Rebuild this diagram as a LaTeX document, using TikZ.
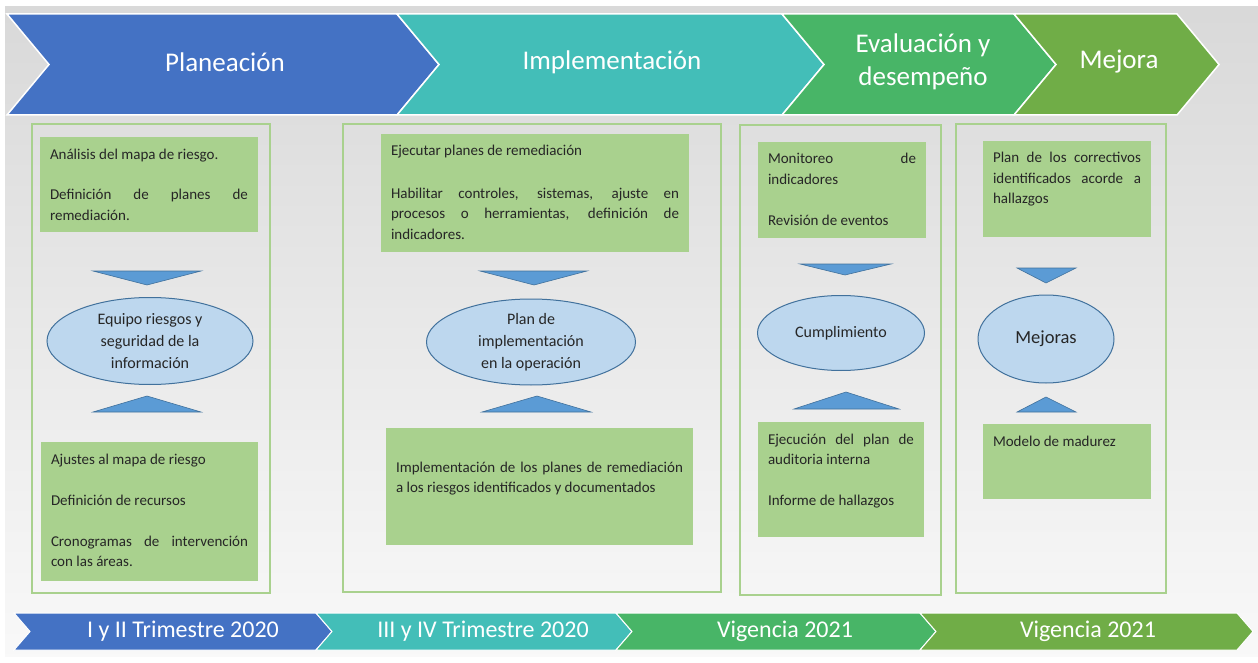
\documentclass[tikz,border=0pt]{standalone}
\usepackage{fontspec}
\setmainfont{Carlito}
\usetikzlibrary{shapes.geometric}

\definecolor{chevblue}{HTML}{4472C4}
\definecolor{chevteal}{HTML}{43BEB8}
\definecolor{chevgreen}{HTML}{48B567}
\definecolor{chevolive}{HTML}{70AD47}
\definecolor{notegreen}{HTML}{A9D18E}
\definecolor{notetext}{HTML}{262626}
\definecolor{bubblefill}{HTML}{BDD7EE}
\definecolor{bubbleedge}{HTML}{41719C}
\definecolor{wedgeblue}{HTML}{5B9BD5}

% Texto de las cajas verdes (ancho, alto, contenido)
\newcommand{\notefont}{\fontsize{15}{20.5}\selectfont\color{notetext}}
\newcommand{\notebox}[4][22pt]{\parbox[c][#3][t]{#2}{\notefont\hyphenpenalty=10000 \rule{0pt}{#1}#4}}
\newcommand{\gapline}{\par\vspace{20.5pt}}

\tikzset{
  chevron/.style={draw=white, line width=1.5pt},
  headtext/.style={text=white, font=\fontsize{27}{33}\selectfont, align=center},
  foottext/.style={text=white, font=\fontsize{24}{28}\selectfont},
  panel/.style={draw=notegreen, line width=2.5pt},
  note/.style={fill=notegreen, anchor=north west, inner xsep=10pt, inner ysep=0pt, outer sep=0pt},
  bubble/.style={ellipse, draw=bubbleedge, fill=bubblefill, line width=1pt, inner sep=0pt,
    align=center, text=notetext, font=\fontsize{16}{22}\selectfont},
  wedge/.style={fill=wedgeblue, draw=bubbleedge, line width=0.6pt}
}

\begin{document}
\begin{tikzpicture}[x=1pt, y=-1pt]
        \useasboundingbox (0,0) rectangle (1258,663);

        % Fondo
        \fill[white] (0,0) rectangle (1258,663);
        \shade[top color=gray!30, bottom color=gray!5] (5,7) rectangle (1258,656);

        % Flechas de las etapas
        \foreach \l/\r/\c in {7/397/chevblue, 397/782/chevteal, 782/1014/chevgreen, 1014/1177/chevolive}
            \draw[chevron, fill=\c] (\l,14) -- (\r,14) -- (\r+42,64.5) -- (\r,115) -- (\l,115) -- (\l+42,64.5) -- cycle;

        \node[headtext] (h-plan) at (225,62) {Planeación};
        \node[headtext] (h-impl) at (612,62) {Implementación};
        \node[headtext] (h-eval) at (923,62) {Evaluación y\\desempeño};
        \node[headtext] (h-mejora) at (1119,62) {Mejora};

        % Flechas de los periodos
        \foreach \l/\r/\c in {14/316/chevblue, 316/616/chevteal, 616/920/chevgreen, 920/1237/chevolive}
            \draw[chevron, line width=1pt, fill=\c] (\l,613) -- (\r,613) -- (\r+16,631.5) -- (\r,650) -- (\l,650) -- (\l+16,631.5) -- cycle;

        \node[foottext] (t-plan) at (183,631) {I y II Trimestre 2020};
        \node[foottext] (t-impl) at (483,631) {III y IV Trimestre 2020};
        \node[foottext] (t-eval) at (785,631) {Vigencia 2021};
        \node[foottext] (t-mejora) at (1088,631) {Vigencia 2021};

        % Marcos de cada etapa
        \draw[panel] (32,124) rectangle (270,593);
        \draw[panel] (343,124) rectangle (721,592);
        \draw[panel] (740,125) rectangle (941,595);
        \draw[panel] (956,124) rectangle (1166,593);

        % Planeación
        \node[note] (plan-top) at (40,137) {\notebox{198pt}{95pt}{Análisis del mapa de riesgo.\gapline Definición de planes de remediación.}};
        \draw[wedge] (93,271) -- (201,271) -- (147,285) -- cycle;
        \node[bubble, minimum width=206pt, minimum height=87pt] (plan-team) at (150,341) {Equipo riesgos y\\seguridad de la\\información};
        \draw[wedge] (93,412) -- (201,412) -- (147,396) -- cycle;
        \node[note] (plan-bottom) at (41,442) {\notebox{197pt}{139pt}{Ajustes al mapa de riesgo\gapline Definición de recursos\gapline Cronogramas de intervención con las áreas.}};

        % Implementación
        \node[note] (impl-top) at (381,134) {\notebox{288pt}{118pt}{Ejecutar planes de remediación\par\vspace{22pt}Habilitar controles, sistemas, ajuste en\linebreak procesos o herramientas, definición de\linebreak indicadores.}};
        \draw[wedge] (480,271) -- (587,271) -- (534,285) -- cycle;
        \node[bubble, minimum width=209pt, minimum height=86pt] (impl-plan) at (531,342) {Plan de\\implementación\\en la operación};
        \draw[wedge] (482,412) -- (591,412) -- (537,396) -- cycle;
        \node[note] (impl-bottom) at (386,428) {\notebox[44pt]{287pt}{117pt}{Implementación de los planes de remediación\linebreak a los riesgos identificados y documentados}};

        % Evaluación y desempeño
        \node[note] (eval-top) at (758,142) {\notebox{148pt}{96pt}{Monitoreo de indicadores\gapline Revisión de eventos}};
        \draw[wedge] (800,264) -- (891,264) -- (845,275) -- cycle;
        \node[bubble, minimum width=167pt, minimum height=75pt] (eval-check) at (841,333) {Cumplimiento};
        \draw[wedge] (794,409) -- (899,409) -- (846,392) -- cycle;
        \node[note] (eval-bottom) at (758,422) {\notebox{146pt}{115pt}{Ejecución del plan de auditoria interna\gapline Informe de hallazgos}};

        % Mejora
        \node[note] (mejora-top) at (983,141) {\notebox{148pt}{96pt}{Plan de los correctivos identificados acorde a hallazgos}};
        \draw[wedge] (1017,268) -- (1076,268) -- (1046,283) -- cycle;
        \node[bubble, minimum width=136pt, minimum height=88pt, font=\fontsize{18.5}{22}\selectfont] (mejora-main) at (1046,339) {Mejoras};
        \draw[wedge] (1017,412) -- (1076,412) -- (1046,397) -- cycle;
        \node[note] (mejora-bottom) at (983,424) {\notebox{148pt}{75pt}{Modelo de madurez}};

\end{tikzpicture}
\end{document}
